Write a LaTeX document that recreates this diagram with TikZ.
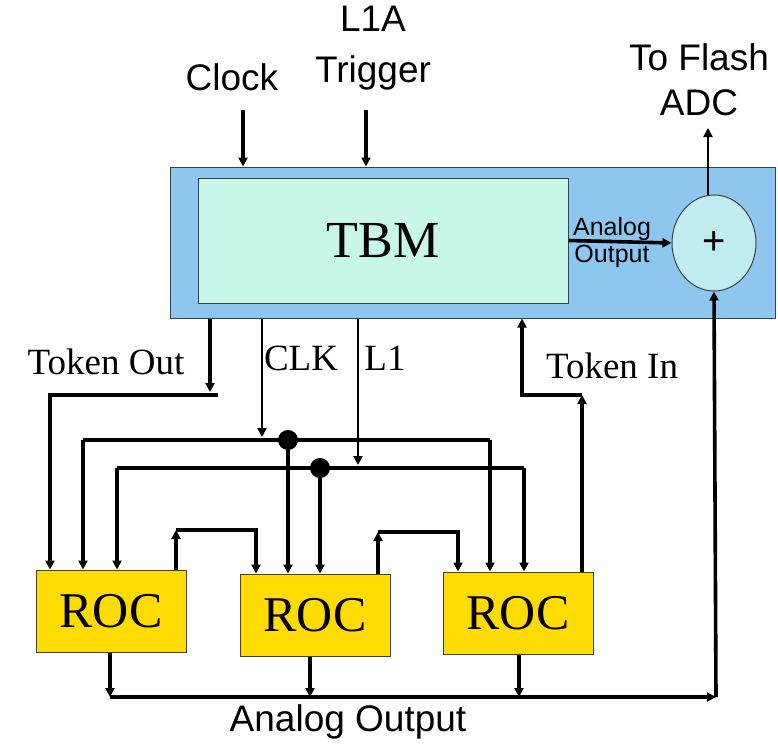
\documentclass[tikz,border=0pt]{standalone}
\usepackage{fontspec}
\setmainfont{Liberation Serif}
\newfontfamily\labelfont{Liberation Sans}
\usetikzlibrary{arrows.meta,shapes.geometric}
\definecolor{chipblue}{RGB}{141,199,240}
\definecolor{tbmgreen}{RGB}{200,246,232}
\definecolor{sumcyan}{RGB}{192,236,240}
\definecolor{rocyellow}{RGB}{255,219,0}
\begin{document}
\begin{tikzpicture}[
	x=1pt, y=-1pt,
	>={Triangle[length=9pt,width=9pt]},
	wire/.style={ line width=3.6pt },
	thinwire/.style={ line width=2.6pt },
	box/.style={ draw=black!75, line width=1pt, inner sep=0pt },
	roc/.style={ box, fill=rocyellow, minimum width=150pt, minimum height=82pt, font=\fontsize{50}{50}\selectfont },
	sans/.style={ font=\labelfont\fontsize{37}{45}\selectfont, align=center },
	serif/.style={ font=\fontsize{37}{40}\selectfont },
	junction/.style={ circle, fill, inner sep=0pt, minimum size=20pt }
]
\useasboundingbox (0,0) rectangle (778,744);

% chip with TBM and summing node
\node at (472.5,242.5) (chip) [box, fill=chipblue, minimum width=605pt, minimum height=151pt] {};
\node at (383,240.5) (tbm) [box, fill=tbmgreen, minimum width=370pt, minimum height=125pt, font=\fontsize{52}{52}\selectfont] {TBM};
\node at (714,243) (sum) [box, ellipse, fill=sumcyan, minimum width=84pt, minimum height=96pt, font=\labelfont\fontsize{40}{40}\selectfont] {+};

% readout chips
\foreach \i/\x/\y in {1/111/611,2/315/615,3/518/613}
	\node at (\x,\y) (roc\i) [roc] {ROC};

% labels
\node at (232,77) (clock) [sans] {Clock};
\node at (373,48) (trigger) [sans, font=\labelfont\fontsize{37}{51}\selectfont] {L1A\\Trigger};
\node at (699,80) (flash) [sans] {To Flash\\ADC};
\node at (612,243) (aout) [sans, font=\labelfont\fontsize{25}{27}\selectfont] {Analog\\Output};
\node at (348,722) (bout) [sans] {Analog Output};
\node at (106,362) (tokoutlbl) [serif] {Token Out};
\node at (301,358) (clklbl) [serif] {CLK};
\node at (385,358) (l1lbl) [serif] {L1};
\node at (612,366) (tokinlbl) [serif] {Token In};

% bends and bus points
\coordinate (clockin) at (243,110);
\coordinate (l1ain) at (366,110);
\coordinate (flashout) at (708,128);
\coordinate (tokout) at (218,395);
\coordinate (tokin) at (582,395);
\coordinate (clkbus) at (83,440);
\coordinate (clkend) at (490,440);
\coordinate (l1bus) at (117,468);
\coordinate (l1end) at (524,468);
\coordinate (aobus) at (110,697);
\coordinate (aoend) at (716,697);
\node at (288,440) (clkdot) [junction] {};
\node at (320,468) (l1dot) [junction] {};

% chip inputs and outputs
\draw[wire,->] (clockin) to (clockin |- chip.north);
\draw[wire,->] (l1ain) to (l1ain |- chip.north);
\draw[thinwire,->] (flashout |- sum.north) to (flashout);
\draw[wire,->] (tbm.east) to (sum.west);
\draw[wire,->] (aoend) to (sum.south);

% token chain
\draw[wire,->] (210,0 |- chip.south) to (210,392);
\draw[wire,->] (tokout) to (50,395) to (50,0 |- roc1.north);
\draw[wire,->] (roc1.north -| 176,0) to (176,530);
\draw[wire,->] (176,530) to (256,530) to (256,0 |- roc2.north);
\draw[wire,->] (roc2.north -| 378,0) to (378,532);
\draw[wire,->] (378,532) to (458,532) to (458,0 |- roc3.north);
\draw[wire,->] (roc3.north -| tokin) to (tokin);
\draw[wire,->] (tokin) to (522,395) to (522,0 |- chip.south);

% clock and trigger buses
\draw[thinwire,->] (262,0 |- chip.south) to (262,437);
\draw[wire] (clkbus) to (clkend);
\draw[wire,->] (clkbus) to (clkbus |- roc1.north);
\draw[wire,->] (clkdot) to (clkdot |- roc2.north);
\draw[wire,->] (clkend) to (clkend |- roc3.north);
\draw[thinwire,->] (358,0 |- chip.south) to (358,465);
\draw[wire] (l1bus) to (l1end);
\draw[wire,->] (l1bus) to (l1bus |- roc1.north);
\draw[wire,->] (l1dot) to (l1dot |- roc2.north);
\draw[wire,->] (l1end) to (l1end |- roc3.north);

% analog outputs
\draw[wire,->] (roc1.south -| aobus) to (aobus);
\draw[wire,->] (roc2.south -| 310,0) to (310,697);
\draw[wire,->] (roc3.south -| 519,0) to (519,697);
\draw[wire,->] (aobus) to (aoend);

\end{tikzpicture}
\end{document}
